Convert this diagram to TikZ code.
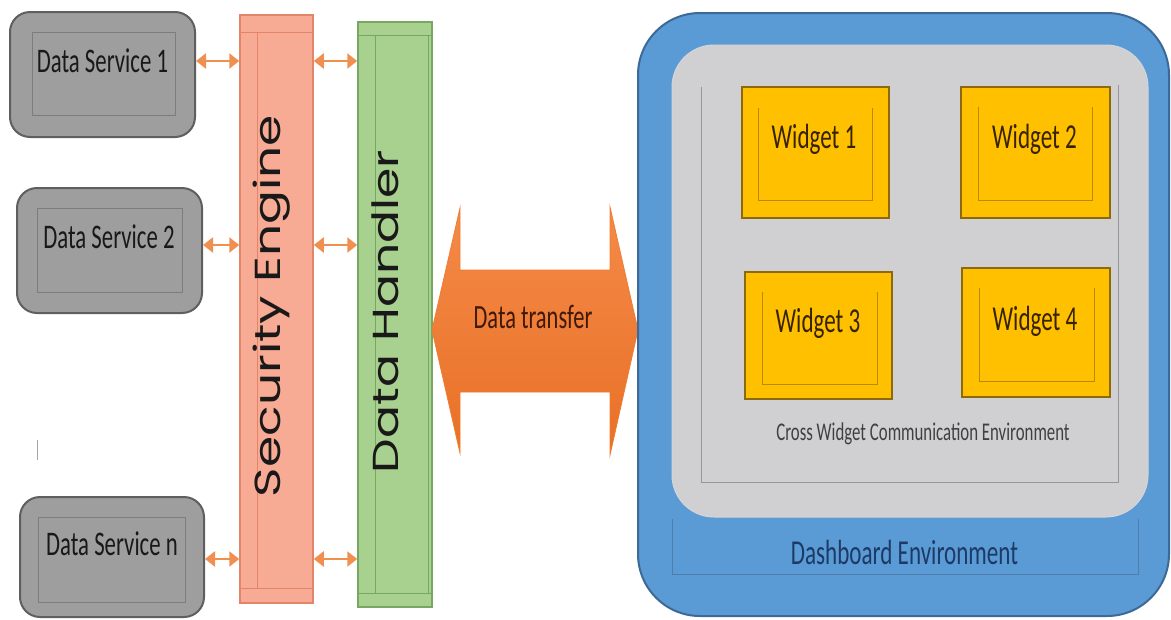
\documentclass[tikz,border=0pt]{standalone}
\usepackage{fontspec}
\setmainfont{Carlito}
\newfontfamily\carl[FakeStretch=0.66]{Carlito}
\newfontfamily\popf{Poppins}
\usetikzlibrary{arrows.meta}
\definecolor{dsfill}{RGB}{158,158,158}
\definecolor{dsline}{RGB}{95,95,95}
\definecolor{dsinner}{RGB}{125,125,125}
\definecolor{sefill}{RGB}{247,171,148}
\definecolor{seline}{RGB}{226,134,106}
\definecolor{dhfill}{RGB}{168,208,142}
\definecolor{dhline}{RGB}{118,168,98}
\definecolor{arr}{RGB}{237,125,49}
\definecolor{arrtop}{RGB}{244,138,72}
\definecolor{arrbot}{RGB}{233,112,38}
\definecolor{bluefill}{RGB}{91,155,213}
\definecolor{blueline}{RGB}{60,105,150}
\definecolor{bluethin}{RGB}{80,125,170}
\definecolor{panel}{RGB}{208,208,210}
\definecolor{panelline}{RGB}{150,150,150}
\definecolor{wfill}{RGB}{255,192,0}
\definecolor{wline}{RGB}{140,105,10}
\definecolor{winner}{RGB}{185,135,10}
\definecolor{wtext}{RGB}{55,35,0}
\definecolor{dashtext}{RGB}{28,58,102}
\definecolor{darktext}{RGB}{25,25,25}
\definecolor{xfertext}{RGB}{65,25,8}
\begin{document}
\begin{tikzpicture}[x=1pt,y=-1pt,
  dsbox/.style={draw=dsline,line width=2pt,fill=dsfill,rounded corners=20pt,inner sep=0pt},
  dsin/.style={draw=dsinner,line width=1pt,inner sep=0pt},
  sebar/.style={draw=seline,line width=1.5pt,fill=sefill,inner sep=0pt},
  dhbar/.style={draw=dhline,line width=1.5pt,fill=dhfill,inner sep=0pt},
  wbox/.style={draw=wline,line width=2pt,fill=wfill,inner sep=0pt},
  win/.style={draw=winner,line width=1pt},
  sarrow/.style={draw=arr!85,line width=2.5pt,{Triangle[length=10pt,width=15pt]}-{Triangle[length=10pt,width=15pt]}},
  dstext/.style={anchor=base,text=darktext,font=\carl\fontsize{34.5}{36}\selectfont,inner sep=0pt},
  wtxt/.style={anchor=base,text=wtext,font=\carl\fontsize{35}{36}\selectfont,inner sep=0pt},
  vtext/.style={rotate=90,anchor=base,text=darktext,inner sep=0pt}
]
\useasboundingbox (0,0) rectangle (1171,619);

% --- Data services ---
\node[dsbox,minimum width=185pt,minimum height=125pt] (ds1) at (102.5,74.5) {};
\node[dsin,minimum width=143pt,minimum height=83pt] (ds1i) at (103.5,73.5) {};
\node[dstext] (ds1t) at (102.5,72) {Data Service 1};

\node[dsbox,minimum width=185pt,minimum height=125pt] (ds2) at (109.5,250.5) {};
\node[dsin,minimum width=145pt,minimum height=84pt] (ds2i) at (109.5,250) {};
\node[dstext] (ds2t) at (109,248) {Data Service 2};

\node[dsbox,minimum width=184pt,minimum height=120pt] (dsn) at (112,557) {};
\node[dsin,minimum width=147pt,minimum height=85pt] (dsni) at (111.5,559.5) {};
\node[dstext] (dsnt) at (112,555) {Data Service n};

\draw[black!35,line width=1pt] (37,440) -- (37,460);

% --- Security engine ---
\node[sebar,minimum width=73pt,minimum height=588pt] (se) at (276.5,309) {};
\draw[seline,line width=1pt] (se.north west |- 0,32) -- (se.north east |- 0,32);
\draw[seline,line width=1pt] (257,32) -- (257,588);
\draw[seline,line width=1pt] (se.west |- 0,588) -- (se.east |- 0,588);
\node[vtext] (setext) at (280.5,306) {\popf\scalebox{1}[0.72]{\resizebox{382pt}{!}{Security Engine}}};

% --- Data handler ---
\node[dhbar,minimum width=74pt,minimum height=585pt] (dh) at (395,314.5) {};
\draw[dhline,line width=1pt] (dh.west |- 0,35) -- (dh.east |- 0,35);
\draw[dhline,line width=1pt] (375,35) -- (375,593);
\draw[dhline,line width=1pt] (428,35) -- (428,593);
\draw[dhline,line width=1pt] (dh.west |- 0,593) -- (dh.east |- 0,593);
\node[vtext] (dhtext) at (398.5,311.5) {\popf\scalebox{1}[0.74]{\resizebox{323pt}{!}{Data Handler}}};

% --- small connectors ---
\coordinate (row1) at (0,61);
\coordinate (row2) at (0,245);
\coordinate (row3) at (0,559);
\draw[sarrow] (ds1.east |- row1) -- (se.west |- row1);
\draw[sarrow] (se.east |- row1) -- (dh.west |- row1);
\draw[sarrow] (ds2.east |- row2) -- (se.west |- row2);
\draw[sarrow] (se.east |- row2) -- (dh.west |- row2);
\draw[sarrow] (dsn.east |- row3) -- (se.west |- row3);
\draw[sarrow] (se.east |- row3) -- (dh.west |- row3);

% --- big data transfer arrow ---
\path[top color=arrtop,bottom color=arrbot,draw=arr,line width=0.8pt]
  (432,330) -- (460,208) -- (460,270) -- (610,270) -- (610,207) -- (638,330)
  -- (610,455) -- (610,392) -- (460,392) -- (460,453) -- cycle;
\node[anchor=base,text=xfertext,font=\carl\fontsize{34}{36}\selectfont,inner sep=0pt] (xfer) at (533,328) {Data transfer};

% --- dashboard ---
\node[draw=blueline,line width=2pt,fill=bluefill,rounded corners=62pt,minimum width=531pt,minimum height=603pt,inner sep=0pt] (dash) at (903.5,314.5) {};
\node[fill=panel,draw=panel!90!white,line width=1pt,rounded corners=42pt,minimum width=476pt,minimum height=472pt,inner sep=0pt] (pan) at (910,281) {};
\draw[panelline,line width=1pt] (701,87) -- (701,482) -- (1118,482) -- (1118,85);
\draw[bluethin,line width=1pt] (672,519) -- (672,574) -- (1138,574) -- (1138,519);

\node[wbox,minimum width=147pt,minimum height=131pt] (w1) at (815.5,152.5) {};
\draw[win] (758,108) -- (758,200) -- (872,200) -- (872,108);
\node[wtxt] (w1t) at (814,148) {Widget 1};

\node[wbox,minimum width=149pt,minimum height=131pt] (w2) at (1035.5,152.5) {};
\draw[win] (978,107) -- (978,200) -- (1092,200) -- (1092,107);
\node[wtxt] (w2t) at (1034.5,148) {Widget 2};

\node[wbox,minimum width=147pt,minimum height=127pt] (w3) at (818.5,335.5) {};
\draw[win] (762,292) -- (762,384) -- (877,384) -- (877,292);
\node[wtxt] (w3t) at (818,332) {Widget 3};

\node[wbox,minimum width=148pt,minimum height=129pt] (w4) at (1036,332.5) {};
\draw[win] (979,288) -- (979,381) -- (1094,381) -- (1094,288);
\node[wtxt] (w4t) at (1035,330) {Widget 4};

\node[anchor=base,text=black!75,font=\carl\fontsize{25.5}{27}\selectfont,inner sep=0pt] (cw) at (923,440) {Cross Widget Communication Environment};
\node[anchor=base,text=dashtext,font=\carl\fontsize{35}{36}\selectfont,inner sep=0pt] (dt) at (904.5,564) {Dashboard Environment};
\end{tikzpicture}
\end{document}
